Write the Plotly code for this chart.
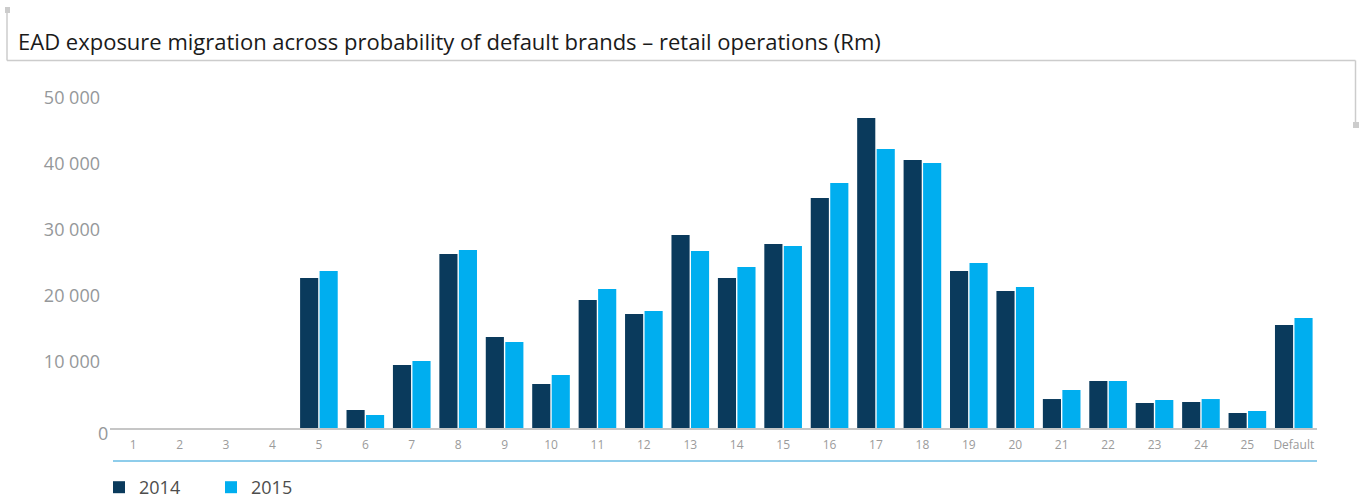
import plotly.graph_objects as go

# Probability of default bands and EAD exposure (Rm)
bands = [str(i) for i in range(1, 26)] + ["Default"]
ead_2014 = [0, 0, 0, 0, 22730, 2730, 9550, 26360, 13790, 6670, 19390, 17270, 29240,
            22730, 27880, 34850, 46970, 40610, 23790, 20760, 4390, 7120, 3790, 3940,
            2270, 15610]
ead_2015 = [0, 0, 0, 0, 23790, 1970, 10150, 26970, 13030, 8030, 21060, 17730, 26820,
            24390, 27580, 37120, 42270, 40150, 25000, 21360, 5760, 7120, 4240, 4390,
            2580, 16670]
y_ticks = [10000, 20000, 30000, 40000, 50000]
y_tick_text = ["10 000", "20 000", "30 000", "40 000", "50 000"]

W, H = 1359, 501
L, R, T, B = 110, 42, 98, 73
PW, PH = W - L - R, H - T - B

def px(x):
    return (x - L) / PW

def py(y):
    return (H - B - y) / PH

NAVY = "#0a3a5c"
CYAN = "#00aeef"
FRAME = "#cccccc"
GREY_TXT = "#95989a"
FONT = "Open Sans"

fig = go.Figure()
fig.add_bar(x=bands, y=ead_2014, name="2014", marker=dict(color=NAVY, line=dict(width=0)))
fig.add_bar(x=bands, y=ead_2015, name="2015", marker=dict(color=CYAN, line=dict(width=0)))

shapes = [
    # decorative frame around the heading
    dict(type="line", x0=px(7), x1=px(7), y0=py(12), y1=py(60.5), line=dict(color=FRAME, width=1.5)),
    dict(type="line", x0=px(7), x1=px(1355.5), y0=py(60.5), y1=py(60.5), line=dict(color=FRAME, width=1.5)),
    dict(type="line", x0=px(1355.5), x1=px(1355.5), y0=py(60.5), y1=py(122), line=dict(color=FRAME, width=1.5)),
    dict(type="rect", x0=px(5), x1=px(10), y0=py(7), y1=py(13), fillcolor=FRAME, line=dict(width=0)),
    dict(type="rect", x0=px(1353), x1=px(1359), y0=py(122), y1=py(128), fillcolor=FRAME, line=dict(width=0)),
    # rule between axis labels and legend
    dict(type="line", x0=px(113), x1=px(1317), y0=py(461), y1=py(461), line=dict(color="#1e9bd7", width=1)),
]
for s in shapes:
    s.update(xref="paper", yref="paper", layer="above")

fig.update_layout(
    width=W, height=H,
    margin=dict(l=L, r=R, t=T, b=B, pad=0, autoexpand=False),
    paper_bgcolor="white", plot_bgcolor="white",
    barmode="group", bargap=0.16, bargroupgap=0.07,
    font=dict(family=FONT, color=GREY_TXT),
    title=dict(
        text="EAD exposure migration across probability of default brands – retail operations (Rm)",
        xref="container", yref="container", x=18 / W, y=1 - 42 / H,
        xanchor="left", yanchor="middle",
        font=dict(family=FONT, size=22, color="#1a1a1a"),
        pad=dict(l=0, r=0, t=0, b=0),
    ),
    xaxis=dict(
        showgrid=False, zeroline=False, showline=True, linecolor="#c6c6c6", linewidth=2,
        ticks="", tickfont=dict(family=FONT, size=12, color="#9b9b9b"), ticklabelstandoff=5,
        fixedrange=True,
    ),
    yaxis=dict(
        range=[0, 50000], showgrid=False, zeroline=False, showline=False, ticks="",
        tickvals=y_ticks, ticktext=y_tick_text,
        tickfont=dict(family=FONT, size=18, color=GREY_TXT), ticklabelstandoff=9,
    ),
    showlegend=True,
    legend=dict(
        orientation="h", x=px(99), y=py(469), xanchor="left", yanchor="top",
        xref="paper", yref="paper",
        font=dict(family=FONT, size=18, color="#4d4d4d"),
        entrywidth=67, entrywidthmode="pixels", traceorder="normal",
        bgcolor="rgba(0,0,0,0)",
    ),
    shapes=shapes,
    annotations=[
        dict(text="0", xref="paper", yref="y", x=0, y=0, xanchor="right", yanchor="middle",
             yshift=-5, showarrow=False, font=dict(family=FONT, size=18, color=GREY_TXT)),
    ],
)

fig.write_html("out.html")
